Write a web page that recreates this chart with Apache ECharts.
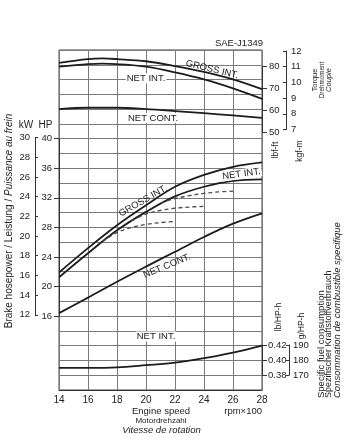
<!DOCTYPE html>
<html>
<head>
<meta charset="utf-8">
<script src="https://cdn.jsdelivr.net/npm/echarts@6/dist/echarts.min.js"></script>
<style>html,body{margin:0;padding:0;background:#fff}#c{width:350px;height:441px}</style>
</head>
<body>
<div id="c"></div>
<script>
// ---- data (engine speed in rpm x 100) ----
const xTicks = [14, 16, 18, 20, 22, 24, 26, 28];

const torqueRpm = [14, 16, 17, 18, 20, 22, 24, 26, 28];
const torqueGrossInt = [81.7, 83.4, 83.7, 83.4, 82.4, 80.2, 77.5, 74.1, 69.6]; // lbf-ft
const torqueNetInt = [79.9, 81.1, 81.3, 81.1, 79.9, 77.3, 74.1, 70.0, 65.2];
const torqueNetContRpm = [14, 16, 18, 20, 22, 24, 26, 28];
const torqueNetCont = [60.5, 61.1, 61.1, 60.5, 59.6, 58.6, 57.6, 56.5];

const powerRpm = [14, 16, 18, 20, 22, 24, 26, 28];
const powerGrossInt = [21.9, 25.2, 28.3, 31.0, 33.5, 35.1, 36.2, 36.8]; // HP
const powerNetInt = [21.25, 24.5, 27.6, 30.1, 32.2, 33.5, 34.3, 34.5];
const powerNetCont = [16.4, 18.5, 20.65, 22.7, 24.7, 26.7, 28.5, 29.9];

const dash1Rpm = [17, 18, 19, 20, 21, 22];
const dash1 = [26.1, 27.3, 28.0, 28.4, 28.65, 28.8];
const dash2Rpm = [19, 20, 21, 22, 23, 24];
const dash2 = [28.9, 29.8, 30.3, 30.6, 30.75, 30.85];
const dash3Rpm = [21, 22, 23, 24, 25, 26];
const dash3 = [31.3, 31.9, 32.3, 32.6, 32.8, 32.9];

const fuelRpm = [14, 16, 18, 20, 22, 24, 26, 28];
const fuelNetInt = [0.390, 0.3898, 0.3905, 0.3935, 0.397, 0.403, 0.4105, 0.420]; // lb/HP-h

// axis ranges
const lbfTicks = [50, 60, 70, 80];
const kgfTicks = [7, 8, 9, 10, 11, 12];
const hpTicks = [16, 20, 24, 28, 32, 36, 40];
const kwTicks = [12, 14, 16, 18, 20, 22, 24, 26, 28, 30];
const lbhTicks = [0.38, 0.40, 0.42];
const ghTicks = [170, 180, 190];

// ---- chart ----
const FONT = 'Liberation Sans, Arial, Helvetica, sans-serif';
const INK = '#1c1c1c';
const pairs = (xs, ys) => xs.map((x, i) => [x, ys[i]]);

const L = 59, W = 203;
const grids = [
  {left: L, width: W, top: 50, height: 340, show: true, borderColor: '#444', borderWidth: 1}, // frame + grid
  {left: L, width: W, top: 66.5, height: 65.5},  // lbf-ft 50..80
  {left: L, width: W, top: 51, height: 78.5},    // kgf-m 7..12
  {left: L, width: W, top: 138.7, height: 177.4},// HP 16..40
  {left: L, width: W, top: 137.6, height: 177.2},// kW 12..30
  {left: L, width: W, top: 345.6, height: 29.6}, // lb/HP-h .38..42
  {left: L, width: W, top: 345, height: 30.2}    // g/HP-h 170..190
];

const xAxes = grids.map((g, i) => ({
  type: 'value', gridIndex: i, min: xTicks[0], max: xTicks[xTicks.length - 1], interval: 2,
  show: i === 0,
  axisLine: {show: true, lineStyle: {color: '#333', width: 1}},
  axisTick: {show: false},
  axisLabel: {fontSize: 10, color: '#222', fontFamily: FONT, margin: 5},
  splitLine: {show: i === 0, lineStyle: {color: '#7a7a7a', width: 1}}
}));

function yAx(gi, ticks, pos, offset, inside, margin, fmt) {
  return {
    type: 'value', gridIndex: gi, position: pos, offset: offset,
    min: ticks[0], max: ticks[ticks.length - 1],
    interval: +(ticks[1] - ticks[0]).toFixed(4),
    axisLine: {show: true, onZero: false, lineStyle: {color: '#333', width: 1}},
    axisTick: {show: true, inside: inside, length: inside ? 3 : 5, lineStyle: {color: '#333'}},
    axisLabel: {fontSize: 9.5, color: '#222', fontFamily: FONT, margin: margin,
      formatter: fmt || (v => String(v))},
    splitLine: {show: false}
  };
}

const yAxes = [
  {type: 'value', gridIndex: 0, min: 0, max: 23, interval: 1,
   axisLine: {show: false}, axisTick: {show: false}, axisLabel: {show: false},
   splitLine: {show: true, lineStyle: {color: '#7a7a7a', width: 1}}},
  yAx(1, lbfTicks, 'right', 0, false, 7),
  yAx(2, kgfTicks, 'right', 24, true, 5),
  yAx(3, hpTicks, 'left', 0, false, 7),
  yAx(4, kwTicks, 'left', 24, true, 5),
  yAx(5, lbhTicks, 'right', 0, false, 6, v => v.toFixed(2)),
  yAx(6, ghTicks, 'right', 27, true, 4)
];

function line(gi, xs, ys, dashed) {
  return {
    type: 'line', xAxisIndex: gi, yAxisIndex: gi, data: pairs(xs, ys),
    showSymbol: false, smooth: 0.35, clip: false, silent: true,
    lineStyle: dashed ? {color: '#4a4a4a', width: 1.3, type: [4, 3]} : {color: INK, width: 1.8}
  };
}

const series = [
  line(1, torqueRpm, torqueGrossInt),
  line(1, torqueRpm, torqueNetInt),
  line(1, torqueNetContRpm, torqueNetCont),
  line(3, powerRpm, powerGrossInt),
  line(3, powerRpm, powerNetInt),
  line(3, powerRpm, powerNetCont),
  line(3, dash1Rpm, dash1, true),
  line(3, dash2Rpm, dash2, true),
  line(3, dash3Rpm, dash3, true),
  line(5, fuelRpm, fuelNetInt)
];

function txt(t, x, y, size, opts) {
  opts = opts || {};
  return {
    type: 'text', x: x, y: y, rotation: opts.rot || 0, z: 100,
    style: {
      text: t, x: 0, y: 0, fill: '#222', fontSize: size, fontFamily: FONT,
      fontStyle: opts.italic ? 'italic' : 'normal',
      align: opts.align || 'center', verticalAlign: 'middle',
      backgroundColor: opts.bg ? '#fff' : undefined, padding: opts.bg ? [0, 1] : 0,
      rich: opts.rich
    }
  };
}

const graphic = [
  txt('SAE-J1349', 263, 43.5, 9.5, {align: 'right'}),
  // torque curve labels
  txt('GROSS INT.', 212, 69.5, 9.5, {rot: -0.235}),
  txt('NET INT.', 146, 78.5, 9.5, {bg: true}),
  txt('NET CONT.', 153, 118, 9.5, {bg: true}),
  // power curve labels
  txt('GROSS INT.', 143, 201, 9.5, {rot: 0.52}),
  txt('NET INT.', 241.5, 174, 9.5, {rot: 0.14, bg: true}),
  txt('NET CONT.', 167, 266, 9.5, {rot: 0.39}),
  // fuel label
  txt('NET INT.', 156, 336.5, 9.5, {bg: true}),
  // unit labels
  txt('kW', 26, 125, 10),
  txt('HP', 45.5, 125, 10),
  txt('lbf-ft', 275.5, 150, 8.5, {rot: Math.PI / 2}),
  txt('kgf-m', 299.5, 151, 8.5, {rot: Math.PI / 2}),
  txt('lb/HP-h', 279, 317, 8.5, {rot: Math.PI / 2}),
  txt('g/HP-h', 302, 326, 8.5, {rot: Math.PI / 2}),
  // left axis title
  {type: 'text', x: 9, y: 221, rotation: Math.PI / 2,
   style: {text: '{a|Brake hosepower / Leistung / }{b|Puissance au frein}', x: 0, y: 0,
     align: 'center', verticalAlign: 'middle', fill: '#222',
     rich: {a: {fontSize: 10, fontFamily: FONT, fill: '#222'},
            b: {fontSize: 10, fontFamily: FONT, fontStyle: 'italic', fill: '#222'}}}},
  // torque title
  txt('Torque', 315, 80, 7.5, {rot: Math.PI / 2}),
  txt('Drehmoment', 322, 80, 6.3, {rot: Math.PI / 2}),
  txt('Couple', 328.5, 80, 7.5, {rot: Math.PI / 2, italic: true}),
  // fuel title
  txt('Specific fuel consumption', 321, 398, 9.5, {rot: Math.PI / 2, align: 'left'}),
  txt('Spezifischer Kraftstoffverbrauch', 329, 398, 9, {rot: Math.PI / 2, align: 'left'}),
  txt('Consommation de combustible specifique', 337.5, 398, 9.5, {rot: Math.PI / 2, align: 'left', italic: true}),
  // x axis titles
  txt('Engine speed', 161, 411.5, 9.5),
  txt('Motordrehzahl', 161, 421, 8),
  txt('Vitesse de rotation', 161.5, 430.5, 9.5, {italic: true}),
  txt('rpm\u00d7100', 262, 411.5, 9.5, {align: 'right'})
];

const chart = echarts.init(document.getElementById('c'), null, {renderer: 'canvas'});
chart.setOption({
  animation: false,
  backgroundColor: '#fff',
  grid: grids,
  xAxis: xAxes,
  yAxis: yAxes,
  series: series,
  graphic: graphic
});
</script>
</body>
</html>
